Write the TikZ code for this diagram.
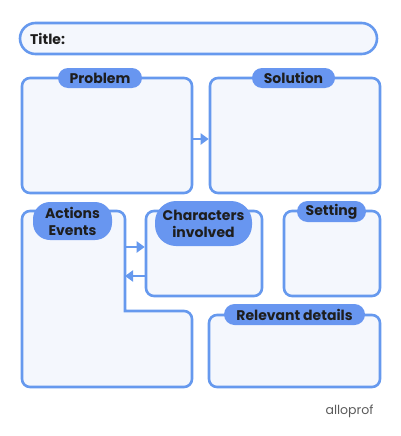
\documentclass[tikz,border=0pt]{standalone}
\usepackage{fontspec}
\setmainfont{Poppins}
\usetikzlibrary{arrows.meta}
\definecolor{bord}{HTML}{6699EE}
\definecolor{boxfill}{HTML}{F4F7FD}
\definecolor{pill}{HTML}{6896F0}
\definecolor{ink}{HTML}{1E1E1E}
\definecolor{logo}{HTML}{5A5A5A}
\begin{document}
\begin{tikzpicture}[x=1pt,y=-1pt,
  box/.style={draw=bord, fill=boxfill, line width=2.6pt, rounded corners=8pt, inner sep=0pt},
  tag/.style={fill=pill, inner sep=0pt, text=ink, align=center,
    font=\bfseries\fontsize{14}{17}\selectfont},
  link/.style={draw=bord, line width=2.6pt, -{Triangle[length=8pt,width=11pt]}}
]
\useasboundingbox (0,0) rectangle (400,436);

% title
\node[box, rounded corners=15.5pt, minimum width=357pt, minimum height=31pt] (title) at (198.5,38.5) {};
\node[anchor=west, text=ink, font=\bfseries\fontsize{14}{15}\selectfont, inner sep=0pt] (titletxt) at (30,39) {Title:};

% boxes
\node[box, minimum width=170pt, minimum height=115pt] (prob) at (107,135.5) {};
\node[box, minimum width=170pt, minimum height=115pt] (sol) at (295,135.5) {};
\node[box, minimum width=116pt, minimum height=85pt] (char) at (204,253.5) {};
\node[box, minimum width=96pt, minimum height=85pt] (set) at (332,253.5) {};
\node[box, minimum width=171pt, minimum height=72pt] (rel) at (294.5,351) {};

% L-shaped box
\draw[draw=bord, fill=boxfill, line width=2.6pt, rounded corners=8pt]
  (22,300) -- (22,211) -- (125,211) [sharp corners] -- (125,311) [rounded corners=8pt] -- (192,311) -- (192,387) -- (22,387) -- cycle;
\coordinate (actR1) at (125,247);
\coordinate (actR2) at (125,276);

% labels
\node[tag, rounded corners=10pt, minimum width=84pt, minimum height=20pt] (probl) at (100,78) {Problem};
\node[tag, rounded corners=10pt, minimum width=83pt, minimum height=20pt] (soll) at (293.5,78) {Solution};
\node[tag, rounded corners=17pt, minimum width=79pt, minimum height=38pt] (actl) at (72.5,221) {Actions\\Events};
\node[tag, rounded corners=21pt, minimum width=97pt, minimum height=45pt] (charl) at (203.5,223.5) {Characters\\involved};
\node[tag, rounded corners=10.5pt, minimum width=69pt, minimum height=21pt] (setl) at (331.5,211.5) {Setting};
\node[tag, rounded corners=10.5pt, minimum width=141pt, minimum height=21pt] (rell) at (294.5,314.5) {Relevant details};

% connectors
\coordinate (pe) at (192,139);
\draw[link] (pe) -- (sol.west |- pe);
\draw[link] (actR1) -- (char.west |- actR1);
\draw[link] (char.west |- actR2) -- (actR2);

% logo
\node[text=logo, font=\fontsize{12.5}{13}\selectfont, inner sep=0pt] (logo) at (349.5,411) {alloprof};
\end{tikzpicture}
\end{document}
